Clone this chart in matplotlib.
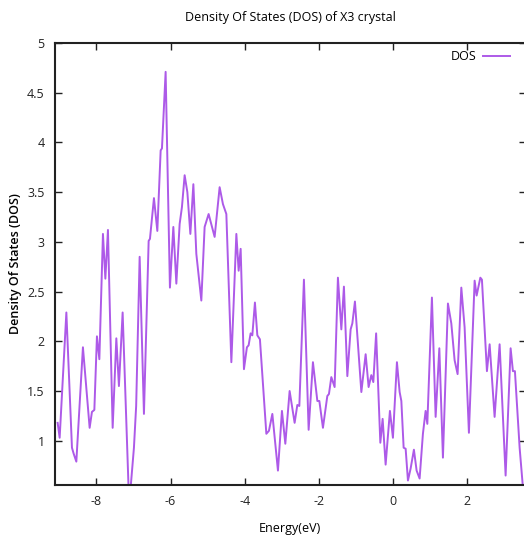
import numpy as np
import matplotlib
matplotlib.use("Agg")
import matplotlib.pyplot as plt

plt.rcParams['font.family'] = ['Open Sans', 'DejaVu Sans']

# energy (eV) and density of states
energy = [-9.045, -8.991, -8.810, -8.659, -8.613, -8.541, -8.363, -8.182, -8.120, -8.055,
          -7.985, -7.920, -7.823, -7.758, -7.688, -7.561, -7.462, -7.392, -7.292, -7.116,
          -6.987, -6.927, -6.833, -6.717, -6.590, -6.555, -6.447, -6.356, -6.266, -6.231,
          -6.132, -6.016, -5.924, -5.843, -5.754, -5.692, -5.619, -5.546, -5.465, -5.384,
          -5.304, -5.169, -5.080, -4.972, -4.810, -4.675, -4.586, -4.494, -4.359, -4.224,
          -4.162, -4.108, -4.019, -3.939, -3.893, -3.839, -3.793, -3.723, -3.658, -3.588,
          -3.415, -3.345, -3.253, -3.102, -2.994, -2.903, -2.787, -2.652, -2.579, -2.525,
          -2.401, -2.274, -2.158, -2.039, -1.985, -1.888, -1.770, -1.726, -1.662, -1.573,
          -1.484, -1.392, -1.322, -1.230, -1.141, -1.095, -1.025, -0.852, -0.736, -0.656,
          -0.583, -0.529, -0.453, -0.340, -0.278, -0.197, -0.081, 0.000, 0.108, 0.181,
          0.227, 0.289, 0.343, 0.405, 0.477, 0.566, 0.639, 0.720, 0.809, 0.882,
          0.928, 1.052, 1.152, 1.252, 1.349, 1.484, 1.575, 1.664, 1.745, 1.845,
          1.934, 2.050, 2.204, 2.258, 2.358, 2.401, 2.536, 2.609, 2.743, 2.878,
          3.040, 3.175, 3.237, 3.291, 3.418, 3.507]
dos = [1.18, 1.03, 2.29, 0.93, 0.87, 0.79, 1.94, 1.13, 1.29, 1.31,
       2.05, 1.82, 3.08, 2.63, 3.12, 1.13, 2.03, 1.55, 2.29, 0.35,
       0.93, 1.35, 2.85, 1.27, 3.01, 3.03, 3.44, 3.11, 3.92, 3.94,
       4.71, 2.54, 3.15, 2.58, 3.18, 3.35, 3.67, 3.50, 3.08, 3.58,
       2.88, 2.41, 3.15, 3.28, 3.05, 3.55, 3.38, 3.28, 1.79, 3.08,
       2.71, 2.93, 1.72, 1.94, 1.96, 2.08, 2.06, 2.39, 2.06, 2.02,
       1.07, 1.10, 1.27, 0.70, 1.30, 0.97, 1.50, 1.18, 1.36, 1.35,
       2.62, 1.11, 1.79, 1.40, 1.40, 1.13, 1.45, 1.47, 1.64, 1.54,
       2.64, 2.12, 2.55, 1.65, 2.12, 2.18, 2.40, 1.49, 1.87, 1.54,
       1.66, 1.59, 2.08, 0.98, 1.22, 0.76, 1.30, 1.03, 1.79, 1.49,
       1.40, 0.93, 0.92, 0.60, 0.72, 0.91, 0.70, 0.62, 1.07, 1.30,
       1.17, 2.44, 1.24, 1.93, 0.83, 2.38, 2.18, 1.81, 1.67, 2.54,
       2.14, 1.08, 2.61, 2.46, 2.64, 2.62, 1.70, 1.97, 1.24, 1.97,
       0.65, 1.93, 1.70, 1.70, 0.93, 0.53]

xticks = [-8, -6, -4, -2, 0, 2]
yticks = [1, 1.5, 2, 2.5, 3, 3.5, 4, 4.5, 5]

fig = plt.figure(figsize=(5.24, 5.36), dpi=100)
ax = fig.add_axes([54.5 / 524, 1 - 485 / 536, 471.5 / 524, 442 / 536])

ax.plot(energy, dos, color="#ad5ae8", linewidth=1.4, label="DOS")

ax.set_xlim(-9.13, 3.59)
ax.set_ylim(0.555, 5)
ax.set_xticks(xticks)
ax.set_xticklabels([str(t) for t in xticks])
ax.set_yticks(yticks)
ax.set_yticklabels(["%g" % t for t in yticks])
ax.tick_params(direction="in", length=5, width=1, top=True, right=True,
               labelsize=9, pad=7, colors="#222222")
for s in ax.spines.values():
    s.set_linewidth(1.5)
    s.set_color("#222222")
# the right border lies just past the picture's edge
ax.spines["right"].set_visible(False)

ax.set_title("Density Of States (DOS) of X3 crystal", fontsize=9, pad=16)
ax.set_xlabel("Energy(eV)", fontsize=9)
ax.set_ylabel("Density Of States (DOS)", fontsize=9, fontweight="semibold")
ax.yaxis.set_label_coords(-0.068, 0.5)
ax.xaxis.set_label_coords(0.5, -0.083)

ax.legend(loc="upper right", frameon=False, markerfirst=False, fontsize=9,
          handlelength=2.2, handletextpad=0.5, borderaxespad=0.2,
          bbox_to_anchor=(0.982, 1.0))

fig.savefig("out.png", dpi=100)
